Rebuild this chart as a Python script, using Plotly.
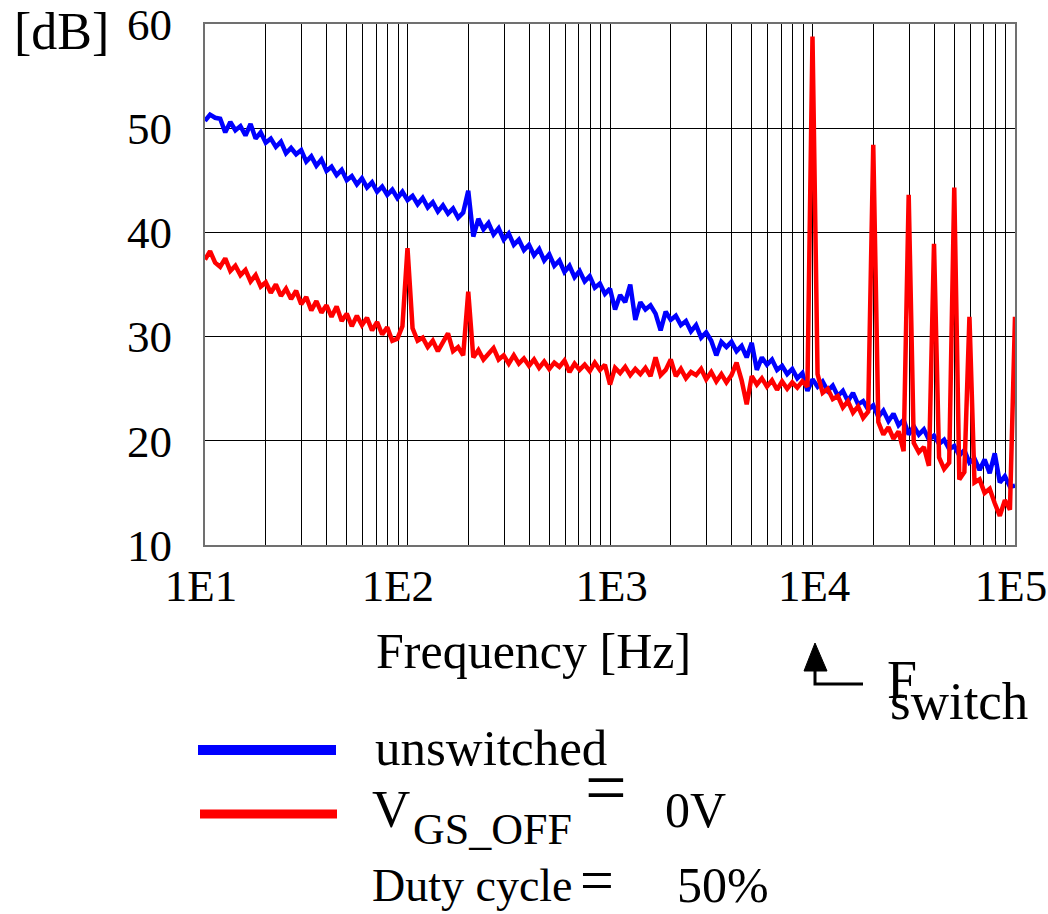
import numpy as np
import plotly.graph_objects as go

# ---------------- data ----------------
# spectrum analyser sweep grid: 40 bins per decade, 10 Hz .. 100 kHz
FREQ_HZ = np.logspace(1, 5, 161)

BLUE_DB = [
    50.7, 51.3, 51.0, 50.9, 49.6, 50.6, 49.8, 50.2, 49.3, 50.4,
    49.0, 49.6, 48.6, 49.0, 48.2, 48.7, 47.6, 48.1, 47.5, 47.9,
    46.8, 47.3, 46.4, 47.0, 45.9, 46.3, 45.5, 46.0, 45.0, 45.4,
    44.6, 45.2, 44.3, 44.8, 43.9, 44.4, 43.6, 44.1, 43.3, 43.9,
    43.1, 43.5, 42.7, 43.3, 42.4, 42.9, 42.0, 42.6, 41.8, 42.3,
    41.4, 41.9, 44.0, 39.6, 41.3, 40.3, 40.9, 39.8, 40.4, 39.3,
    39.9, 38.8, 39.3, 38.3, 38.8, 37.8, 38.4, 37.3, 37.9, 36.8,
    37.3, 36.2, 36.8, 35.7, 36.3, 35.3, 35.8, 34.7, 35.1, 34.1,
    34.6, 32.6, 34.0, 33.3, 35.0, 31.6, 33.3, 32.6, 33.0, 32.2,
    30.6, 32.4, 31.6, 32.0, 31.1, 31.5, 30.5, 31.1, 29.9, 30.4,
    29.6, 28.2, 29.5, 29.0, 29.5, 28.6, 29.1, 28.0, 29.4, 26.8,
    28.0, 27.3, 27.8, 26.8, 27.2, 26.4, 26.9, 26.0, 26.5, 24.8,
    25.9, 25.2, 25.7, 24.8, 25.3, 24.3, 24.8, 23.8, 24.6, 23.5,
    23.8, 23.0, 23.4, 22.3, 22.9, 21.9, 22.6, 21.5, 22.0, 20.6,
    21.4, 20.6, 21.1, 20.1, 20.5, 19.7, 20.1, 19.2, 19.5, 18.6,
    19.1, 17.9, 18.3, 17.2, 18.2, 16.9, 18.8, 16.0, 16.6, 15.6,
    15.7,
]

RED_DB = [
    37.4, 38.2, 37.1, 36.7, 37.5, 36.3, 36.8, 35.9, 36.4, 35.3,
    35.9, 34.8, 35.2, 34.2, 35.0, 33.9, 34.6, 33.6, 34.4, 33.1,
    33.8, 32.5, 33.4, 32.3, 33.0, 31.9, 32.9, 31.5, 32.2, 31.0,
    32.0, 31.1, 31.8, 30.6, 31.4, 30.2, 30.9, 29.6, 29.8, 31.0,
    38.5, 30.8, 29.6, 29.9, 29.0, 29.6, 28.6, 29.4, 30.3, 28.6,
    29.0, 28.2, 34.3, 28.0, 28.7, 27.8, 28.4, 28.9, 27.8, 28.2,
    27.4, 28.2, 27.4, 27.9, 27.2, 27.8, 27.0, 27.6, 26.9, 27.5,
    27.1, 27.7, 26.6, 27.4, 26.8, 27.3, 26.7, 27.5, 26.8, 27.3,
    25.4, 27.0, 26.5, 27.1, 26.3, 26.9, 26.4, 27.0, 26.2, 28.0,
    26.3, 26.8, 27.8, 26.2, 26.9, 26.0, 26.6, 26.3, 26.9, 25.9,
    26.6, 25.7, 26.4, 25.6, 26.3, 27.5, 25.8, 23.5, 26.2, 25.4,
    26.0, 25.2, 25.8, 24.9, 25.7, 25.0, 25.6, 25.1, 25.7, 25.2,
    58.8, 26.4, 24.6, 25.0, 24.0, 24.3, 23.2, 23.8, 22.7, 23.3,
    22.2, 22.8, 48.4, 21.8, 20.6, 21.3, 20.2, 20.9, 19.0, 43.6,
    19.8, 18.9, 19.4, 17.6, 38.9, 18.4, 17.3, 17.9, 44.3, 16.3,
    17.0, 31.9, 16.0, 16.3, 15.0, 15.4, 14.0, 12.8, 14.3, 13.4,
    31.9,
]

NB = "\u00a0"
X_TICK_VALUES = [10, 100, 1000, 10000, 100000]
X_TICK_LABELS = ["1E1", "1E2" + NB, NB + "1E3", NB + "1E4", "1E5"]
X_MINOR_VALUES = [m * 10 ** d for d in range(1, 5) for m in range(2, 10)]
Y_TICK_VALUES = [10, 20, 30, 40, 50, 60]

SERIES_NAMES = ["unswitched", "V_GS_OFF = 0V"]
SERIES_COLORS = ["#0000FF", "#FF0000"]

# ---------------- layout helpers ----------------
W, H = 1048, 914
ML, MR, MT, MB = 205, 33, 24, 369
PW = W - ML - MR
PH = H - MT - MB
SERIF = "Liberation Serif, Times New Roman, serif"


def px(x):
    return (x - ML) / PW


def py(y):
    return (H - MB - y) / PH


fig = go.Figure()
for yvals, name, col in zip([BLUE_DB, RED_DB], SERIES_NAMES, SERIES_COLORS):
    fig.add_trace(go.Scatter(
        x=FREQ_HZ, y=yvals, mode="lines", name=name,
        line=dict(color=col, width=4.5), showlegend=False,
    ))

annotations = []


def text(t, x, y, size, xanchor="left"):
    annotations.append(dict(
        text=t, x=px(x), y=py(y), xref="paper", yref="paper",
        xanchor=xanchor, yanchor="middle", showarrow=False,
        font=dict(family=SERIF, size=size, color="black"),
    ))


text("[dB]", 61, 31, 52, "center")
text("Frequency [Hz]", 533, 651, 50, "center")
text("F", 885, 680, 54)
text("switch", 888, 701, 53)
text("unswitched", 373, 748, 51)
text("V", 370, 809, 53)
text("GS_OFF", 411, 830, 44)
text("=", 583, 787, 74)
text("0V", 663, 810, 50)
text("Duty cycle", 370, 885, 46)
text("=", 578, 880, 60)
text("50%", 675, 885, 50)

shapes = [
    dict(type="line", xref="paper", yref="paper", x0=px(198), x1=px(336),
         y0=py(750), y1=py(750), line=dict(color=SERIES_COLORS[0], width=10)),
    dict(type="line", xref="paper", yref="paper", x0=px(200), x1=px(337),
         y0=py(814), y1=py(814), line=dict(color=SERIES_COLORS[1], width=9)),
    dict(type="path", xref="paper", yref="paper",
         path=f"M {px(815)} {py(643)} L {px(827)} {py(671)} L {px(804)} {py(671)} Z",
         fillcolor="black", line=dict(color="black", width=1)),
    dict(type="path", xref="paper", yref="paper",
         path=f"M {px(815)} {py(668)} L {px(815)} {py(684)} L {px(863)} {py(684)}",
         line=dict(color="black", width=3)),
]

fig.update_layout(
    width=W, height=H,
    margin=dict(l=ML, r=MR, t=MT, b=MB, pad=0, autoexpand=False),
    paper_bgcolor="white", plot_bgcolor="white",
    annotations=annotations, shapes=shapes,
    xaxis=dict(
        type="log", range=[1, 5], automargin=False,
        tickmode="array", tickvals=X_TICK_VALUES, ticktext=X_TICK_LABELS,
        tickfont=dict(family=SERIF, size=45, color="black"),
        ticks="", ticklabelstandoff=0, ticklabelshift=-4,
        ticklabeloverflow="allow",
        showgrid=True, gridcolor="black", gridwidth=1,
        minor=dict(tickmode="array", tickvals=X_MINOR_VALUES, showgrid=True,
                   gridcolor="black", gridwidth=1, ticks=""),
        showline=True, linecolor="#707070", linewidth=2, mirror=True,
        zeroline=False,
    ),
    yaxis=dict(
        range=[10, 60], tickmode="array", tickvals=Y_TICK_VALUES,
        automargin=False,
        tickfont=dict(family=SERIF, size=45, color="black"),
        ticks="", ticklabelstandoff=22, ticklabeloverflow="allow",
        showgrid=True, gridcolor="black", gridwidth=1,
        showline=True, linecolor="#707070", linewidth=2, mirror=True,
        zeroline=False,
    ),
)

fig.write_html("out.html")
